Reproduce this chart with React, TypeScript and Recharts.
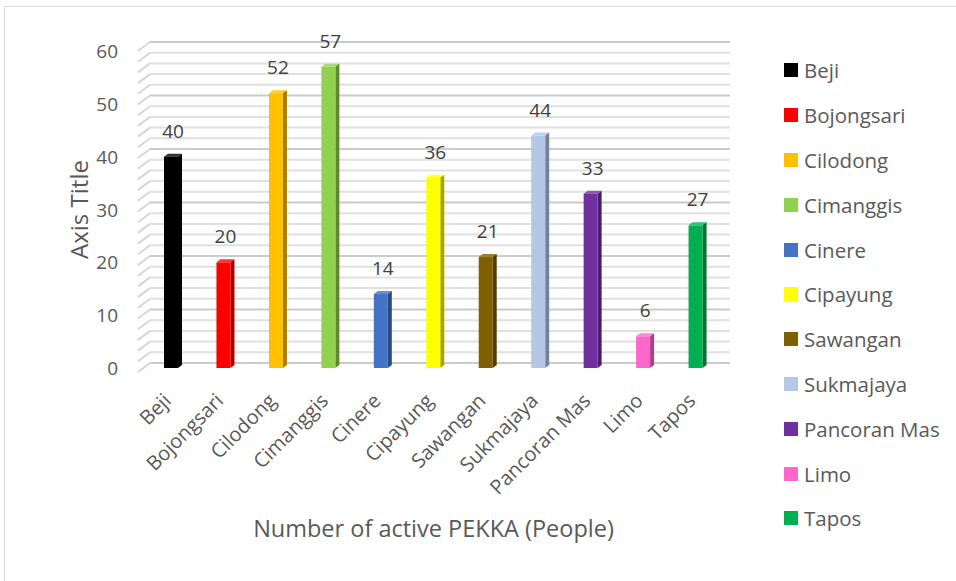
import { BarChart, Bar, XAxis, YAxis, CartesianGrid, LabelList, Label, Legend } from 'recharts';

const districts = ['Beji', 'Bojongsari', 'Cilodong', 'Cimanggis', 'Cinere', 'Cipayung', 'Sawangan', 'Sukmajaya', 'Pancoran Mas', 'Limo', 'Tapos'];
const activePekka = [40, 20, 52, 57, 14, 36, 21, 44, 33, 6, 27];
const barColors = ['#000000', '#FF0000', '#FFC000', '#92D050', '#4472C4', '#FFFF00', '#7F6000', '#B4C7E7', '#7030A0', '#FF66CC', '#00B050'];
// minor gridlines every 2, labels only on the tens
const gridTicks = [0, 2, 4, 6, 8, 10, 12, 14, 16, 18, 20, 22, 24, 26, 28, 30, 32, 34, 36, 38, 40, 42, 44, 46, 48, 50, 52, 54, 56, 58, 60];
const labelStep = 10;

const data = districts.map((name, i) => ({ name, value: activePekka[i], color: barColors[i] }));

const FONT = "'Open Sans', sans-serif";
const TEXT = '#595959';

function mix(hex: string, target: number, amount: number) {
  const n = parseInt(hex.slice(1), 16);
  const ch = [(n >> 16) & 255, (n >> 8) & 255, n & 255].map((c) => Math.round(c + (target - c) * amount));
  return `rgb(${ch[0]},${ch[1]},${ch[2]})`;
}

// bar with a small 3d side and top, like the excel 3-D column
function Bar3D(props: any) {
  const { x, y, width, height, payload } = props;
  if (height == null || width == null) return null;
  const dx = 4;
  const dy = 3;
  const color = payload.color;
  return (
    <g>
      <polygon
        points={`${x},${y} ${x + dx},${y - dy} ${x + width + dx},${y - dy} ${x + width},${y}`}
        fill={mix(color, 255, 0.2)}
      />
      <polygon
        points={`${x + width},${y} ${x + width + dx},${y - dy} ${x + width + dx},${y + height - dy} ${x + width},${y + height}`}
        fill={mix(color, 0, 0.35)}
      />
      <rect x={x} y={y} width={width} height={height} fill={color} />
    </g>
  );
}

// gridline with the slanted stub on the left side wall
function GridLine3D(props: any) {
  const { x1, x2, y1, index } = props;
  const t = (368 - y1) / 317;
  const back = y1 - 5 - 4 * t;
  const front = y1 + 4 - 4 * t;
  const major = Math.round(t * 30) % 5 === 0;
  const stroke = major ? '#cacaca' : '#e0e0e0';
  return (
    <g key={`grid-${index}`}>
      <line x1={x1 - 7} y1={front} x2={x1 + 5} y2={back} stroke="#d6d6d6" strokeWidth={2} />
      <line x1={x1 + 5} y1={back} x2={x2 + 8} y2={back} stroke={stroke} strokeWidth={2} />
    </g>
  );
}

function YTick(props: any) {
  const { x, y, payload } = props;
  if (payload.value % labelStep !== 0) return <g />;
  return (
    <text x={x} y={y} textAnchor="end" dy={7} fill={TEXT} fontSize={19} fontFamily={FONT}>
      {payload.value}
    </text>
  );
}

function XTick(props: any) {
  const { x, y, payload } = props;
  const ax = x + 1;
  const ay = y + 24;
  return (
    <text
      x={ax}
      y={ay}
      transform={`rotate(-45 ${ax} ${ay})`}
      textAnchor="end"
      fill={TEXT}
      fontSize={20}
      fontFamily={FONT}
    >
      {payload.value}
    </text>
  );
}

function LegendList() {
  return (
    <div style={{ fontFamily: FONT, fontSize: 20.5, color: TEXT }}>
      {districts.map((name, i) => (
        <div key={name} style={{ height: 44.8, display: 'flex', alignItems: 'center' }}>
          <span style={{ width: 14, height: 14, backgroundColor: barColors[i], marginRight: 6, display: 'inline-block' }} />
          <span>{name}</span>
        </div>
      ))}
    </div>
  );
}

export default function App() {
  return (
    <div style={{ position: 'absolute', left: 0, top: 0, width: 956, height: 581, background: '#fff', overflow: 'hidden', fontFamily: FONT }}>
      <div style={{ position: 'absolute', left: 4, top: 6, width: 1000, height: 700, border: '1px solid #d9d9d9' }} />
      <BarChart
        width={956}
        height={581}
        data={data}
        margin={{ top: 51, right: 234, bottom: 0, left: 55 }}
        barSize={14}
      >
        <CartesianGrid vertical={false} horizontal={(p: any) => <GridLine3D {...p} />} />
        <XAxis
          dataKey="name"
          interval={0}
          axisLine={false}
          tickLine={false}
          tickSize={0}
          tickMargin={10}
          height={213}
          tick={<XTick />}
        >
          <Label
            value="Number of active PEKKA (People)"
            position="insideBottom"
            offset={44}
            fill={TEXT}
            fontSize={23.5}
            fontFamily={FONT}
          />
        </XAxis>
        <YAxis
          width={90}
          domain={[0, 60]}
          ticks={gridTicks}
          interval={0}
          axisLine={false}
          tickLine={false}
          tickSize={0}
          tickMargin={27}
          tick={<YTick />}
        >
          <Label
            value="Axis Title"
            angle={-90}
            position="insideLeft"
            offset={24}
            fill={TEXT}
            fontSize={24}
            fontFamily={FONT}
            style={{ textAnchor: 'middle' }}
          />
        </YAxis>
        <Legend
          layout="vertical"
          align="center"
          verticalAlign="middle"
          wrapperStyle={{ left: 784, top: 48, width: 170 }}
          content={() => <LegendList />}
        />
        <Bar dataKey="value" shape={<Bar3D />} isAnimationActive={false}>
          <LabelList dataKey="value" position="top" offset={19} dx={2} fill="#404040" fontSize={19} fontFamily={FONT} />
        </Bar>
      </BarChart>
    </div>
  );
}
